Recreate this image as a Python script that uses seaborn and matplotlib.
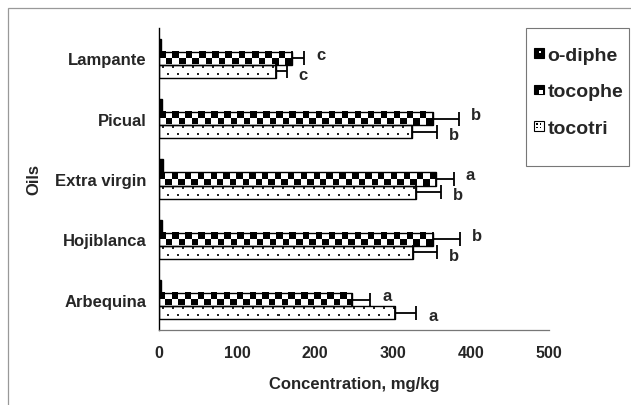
import numpy as np
import pandas as pd
import matplotlib
matplotlib.use("Agg")
import matplotlib.pyplot as plt
import seaborn as sns
from matplotlib.legend_handler import HandlerBase
from matplotlib.patches import Rectangle, Patch

# ---------------- data ----------------
oils = ["Lampante", "Picual", "Extra virgin", "Hojiblanca", "Arbequina"]
compounds = ["o-diphe", "tocophe", "tocotri"]
o_diphe = [2.5, 3.5, 4.5, 3.5, 3.0]
tocophe = [170, 351, 355, 351, 248]
tocophe_err = [16, 34, 23, 35, 23]
tocotri = [150, 324, 330, 326, 303]
tocotri_err = [14, 33, 32, 31, 27]
tocophe_letters = ["c", "b", "a", "b", "a"]
tocotri_letters = ["c", "b", "b", "b", "a"]
x_ticks = [0, 100, 200, 300, 400, 500]

df = pd.DataFrame({
    "oil": oils * 3,
    "compound": ["o-diphe"] * 5 + ["tocophe"] * 5 + ["tocotri"] * 5,
    "value": o_diphe + tocophe + tocotri,
})

sns.set_style("white")
plt.rcParams["font.family"] = ["Liberation Sans", "DejaVu Sans"]
plt.rcParams["font.weight"] = "bold"

fig = plt.figure(figsize=(6.31, 4.06), dpi=100)
ax = fig.add_axes([159 / 631, 1 - 331 / 406, 390 / 631, 302 / 406])

sns.barplot(data=df, x="value", y="oil", hue="compound", order=oils,
            hue_order=compounds, orient="h", width=0.65,
            palette={"o-diphe": "black", "tocophe": "white", "tocotri": "white"},
            edgecolor="black", linewidth=1.0, errorbar=None, legend=False, ax=ax)

ax.set_xlim(0, 500)
ax.set_ylim(4.5, -0.5)


def bar_pixels(p):
    x0, y0, w, h = p.get_x(), p.get_y(), p.get_width(), p.get_height()
    a = ax.transData.transform((x0, y0))
    b = ax.transData.transform((x0 + w, y0 + h))
    return x0, y0, w, h, abs(b[0] - a[0]), abs(b[1] - a[1])


# checkerboard fill for tocophe bars
for p in ax.containers[1]:
    x0, y0, w, h, wpx, hpx = bar_pixels(p)
    ncols = max(1, int(round(wpx / 6.5)))
    r, c = np.mgrid[0:2, 0:ncols]
    arr = ((r + c) % 2).astype(float)
    ax.imshow(arr, cmap="gray", vmin=0, vmax=1, interpolation="nearest",
              extent=(x0, x0 + w, y0 + h, y0), aspect="auto",
              zorder=p.get_zorder() - 0.05)
    p.set_facecolor("none")

# dotted fill for tocotri bars
for p in ax.containers[2]:
    x0, y0, w, h, wpx, hpx = bar_pixels(p)
    nc = max(2, int(round(wpx)))
    nr = max(4, int(round(hpx)))
    arr = np.ones((nr, nc))
    r1, r2 = int(nr * 0.22), int(nr * 0.65)
    for cc in range(3, nc - 2, 10):
        arr[r1:r1 + 2, cc:cc + 2] = 0.15
    for cc in range(8, nc - 2, 10):
        arr[r2:r2 + 2, cc:cc + 2] = 0.15
    ax.imshow(arr, cmap="gray", vmin=0, vmax=1, interpolation="nearest",
              extent=(x0, x0 + w, y0 + h, y0), aspect="auto",
              zorder=p.get_zorder() - 0.05)
    p.set_facecolor("none")

ax.set_xlim(0, 500)
ax.set_ylim(4.5, -0.5)

# error bars and letters
for cont, errs, letters, dy in [(ax.containers[1], tocophe_err, tocophe_letters, 3.0),
                                (ax.containers[2], tocotri_err, tocotri_letters, -2.0)]:
    for p, e, let in zip(cont, errs, letters):
        yc = p.get_y() + p.get_height() / 2
        xv = p.get_width()
        ax.errorbar(xv, yc, xerr=[[0], [e]], fmt="none", ecolor="black",
                    elinewidth=1.3, capsize=5, capthick=1.3, zorder=5)
        ax.annotate(let, xy=(xv + e, yc), xytext=(8.5, dy), textcoords="offset points",
                    ha="left", va="center", fontsize=12, fontweight="bold")

# axes styling
sns.despine(ax=ax, top=True, right=True)
ax.spines["left"].set_color("black")
ax.spines["left"].set_linewidth(1.0)
ax.spines["bottom"].set_color("#777777")
ax.spines["bottom"].set_linewidth(0.9)
ax.set_xticks(x_ticks)
ax.set_xticklabels([str(t) for t in x_ticks], fontsize=11.5, fontweight="bold")
ax.tick_params(axis="x", direction="inout", length=5, width=0.8, color="#777777", pad=8)
ax.tick_params(axis="y", which="major", length=0, pad=9, labelsize=12)
ax.set_yticks(np.arange(-0.5, 5, 1), minor=True)
ax.tick_params(axis="y", which="minor", length=4, width=0.8, color="#777777", direction="out")
for t in ax.get_yticklabels():
    t.set_fontweight("bold")
ax.set_xlabel("Concentration, mg/kg", fontsize=12, fontweight="bold", labelpad=12)
ax.set_ylabel("Oils", fontsize=12, fontweight="bold", labelpad=10)
ax.grid(False)


# legend handlers
class SquareHandler(HandlerBase):
    def __init__(self, kind):
        super().__init__()
        self.kind = kind

    def create_artists(self, legend, orig_handle, xdescent, ydescent, width, height,
                       fontsize, trans):
        s = min(width, height)
        x0 = -xdescent + (width - s) / 2
        y0 = -ydescent + (height - s) / 2
        arts = []
        if self.kind == "solid":
            arts.append(Rectangle((x0, y0), s, s, facecolor="black", edgecolor="black",
                                  lw=0.8, transform=trans))
            arts.append(Rectangle((x0 + 0.55 * s, y0 + 0.55 * s), 0.12 * s, 0.12 * s,
                                  facecolor="white", edgecolor="none", transform=trans))
        elif self.kind == "checker":
            arts.append(Rectangle((x0, y0), s, s, facecolor="black", edgecolor="black",
                                  lw=0.8, transform=trans))
            arts.append(Rectangle((x0 + s / 2, y0 + 0.08 * s), s * 0.42, s * 0.42,
                                  facecolor="white", edgecolor="none", transform=trans))
        else:
            arts.append(Rectangle((x0, y0), s, s, facecolor="white", edgecolor="black",
                                  lw=0.8, transform=trans))
            for fx, fy in [(0.25, 0.25), (0.65, 0.25), (0.25, 0.65), (0.65, 0.65)]:
                arts.append(Rectangle((x0 + fx * s, y0 + fy * s), 0.12 * s, 0.12 * s,
                                      facecolor="black", edgecolor="none", transform=trans))
        return arts


h1, h2, h3 = Patch(), Patch(), Patch()
leg = ax.legend([h1, h2, h3], compounds,
                handler_map={h1: SquareHandler("solid"), h2: SquareHandler("checker"),
                             h3: SquareHandler("dots")},
                loc="upper left", bbox_to_anchor=(534 / 631, 1 - 48 / 406),
                bbox_transform=fig.transFigure, borderaxespad=0,
                prop={"family": "Liberation Sans", "weight": "bold", "size": 14},
                handlelength=0.5, handleheight=0.5, handletextpad=0.2,
                labelspacing=1.0, borderpad=0, frameon=False)

# legend frame drawn separately (526..629 x 29..167 px)
fig.patches.append(Rectangle((526 / 631, 1 - 167 / 406), 103 / 631, 138 / 406,
                             transform=fig.transFigure, facecolor="none",
                             edgecolor="#777777", lw=0.8))

# outer figure border (left and top visible)
border = Rectangle((8 / 631, -0.2), 1.2, 1 - 9 / 406 + 0.2, transform=fig.transFigure,
                   facecolor="none", edgecolor="#999999", lw=0.9, clip_on=False)
fig.patches.append(border)

fig.savefig("out.png", dpi=100)
